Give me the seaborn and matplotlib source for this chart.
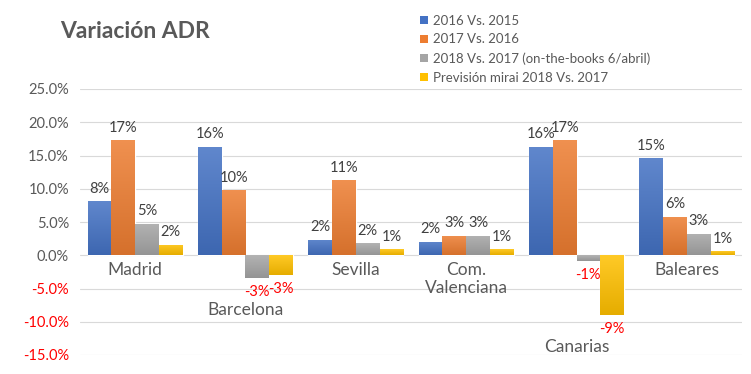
import matplotlib
matplotlib.use("Agg")
import matplotlib.pyplot as plt
import matplotlib.colors as mcolors
import numpy as np
import seaborn as sns
import pandas as pd
from matplotlib.patches import Patch

regions = ["Madrid", "Barcelona", "Sevilla", "Com.\nValenciana", "Canarias", "Baleares"]
series = ["2016 Vs. 2015", "2017 Vs. 2016",
          "2018 Vs. 2017 (on-the-books 6/abril)", "Previsión mirai 2018 Vs. 2017"]
v2016 = [8.1, 16.3, 2.3, 2.0, 16.3, 14.6]
v2017 = [17.3, 9.8, 11.3, 2.9, 17.3, 5.8]
v2018 = [4.7, -3.4, 1.8, 2.9, -0.9, 3.2]
vprev = [1.6, -3.0, 0.9, 0.9, -9.0, 0.6]
yticks = [25, 20, 15, 10, 5, 0, -5, -10, -15]
colors = ["#4472C4", "#ED7D31", "#A5A5A5", "#FFC000"]

rows = []
for s, vals in zip(series, [v2016, v2017, v2018, vprev]):
    for r, v in zip(regions, vals):
        rows.append({"region": r, "series": s, "value": v})
df = pd.DataFrame(rows)

sns.set_theme(style="white")
plt.rcParams["font.family"] = ["Lato", "DejaVu Sans"]

fig = plt.figure(figsize=(7.51, 3.74), dpi=100)
ax = fig.add_axes([80 / 751, 19 / 374, 662 / 751, 266 / 374])

sns.barplot(data=df, x="region", y="value", hue="series", order=regions,
            hue_order=series, palette=colors, saturation=1, width=0.86,
            ax=ax, legend=False, errorbar=None)


def shade(c, f):
    rgb = np.array(mcolors.to_rgb(c))
    if f > 0:
        return rgb + (1 - rgb) * f
    return rgb * (1 + f)


# gradient fill on each bar (lighter top, darker bottom)
for cont, c in zip(ax.containers, colors):
    top = shade(c, 0.15)
    bot = shade(c, -0.1)
    grad = np.linspace(0, 1, 64)[:, None, None]
    img = top[None, None, :] * (1 - grad) + bot[None, None, :] * grad
    for bar in cont:
        x0, y0 = bar.get_x(), bar.get_y()
        w, h = bar.get_width(), bar.get_height()
        lo, hi = min(y0, y0 + h), max(y0, y0 + h)
        im = ax.imshow(img, extent=(x0, x0 + w, lo, hi), aspect="auto",
                       origin="upper", zorder=bar.get_zorder() + 0.1)
        im.set_clip_path(bar)

ax.set_ylim(-15, 25)
ax.set_xlim(-0.5, len(regions) - 0.5)
ax.set_yticks(yticks)
ax.set_yticklabels([f"{t:.1f}%" for t in yticks])
for lbl, t in zip(ax.get_yticklabels(), yticks):
    lbl.set_color("#FF0000" if t < 0 else "#595959")
    lbl.set_fontsize(10.5)
ax.tick_params(axis="y", length=0, pad=8)
ax.set_xticks([])
ax.set_xlabel("")
ax.set_ylabel("")
for sp in ax.spines.values():
    sp.set_visible(False)
ax.grid(axis="y", color="#D9D9D9", linewidth=0.8)
ax.set_axisbelow(True)

# data labels
for cont in ax.containers:
    for bar in cont:
        y0, h = bar.get_y(), bar.get_height()
        x = bar.get_x() + bar.get_width() / 2
        val = y0 + h if h > 0 and y0 >= 0 else min(y0, y0 + h)
        if val >= 0:
            ax.annotate(f"{val:.0f}%", (x, val), xytext=(0, 4), textcoords="offset points",
                        ha="center", va="bottom", fontsize=10.5, color="#404040", zorder=5)
        else:
            ax.annotate(f"{val:.0f}%", (x, val), xytext=(0, -5), textcoords="offset points",
                        ha="center", va="top", fontsize=10.5, color="#FF0000", zorder=5)

# category labels
allvals = [v2016, v2017, v2018, vprev]
for i, r in enumerate(regions):
    m = min(vals[i] for vals in allvals)
    y = -1.0 if m >= 0 else m - 3.6
    ax.text(i, y, r, ha="center", va="top", fontsize=12.5, color="#595959",
            linespacing=1.15)

fig.text(60 / 751, 1 - 31 / 374, "Variación ADR", fontsize=16.5, fontweight="bold",
         color="#595959", va="center", ha="left")

handles = [Patch(facecolor=c, edgecolor="none") for c in colors]
fig.legend(handles, series, loc="upper left", bbox_to_anchor=(413 / 751, 1 - 8 / 374),
           frameon=False, fontsize=9.5, handlelength=0.6, handleheight=0.6,
           handletextpad=0.4, labelspacing=0.52, labelcolor="#595959", borderpad=0)

fig.savefig("out.png", dpi=100)
